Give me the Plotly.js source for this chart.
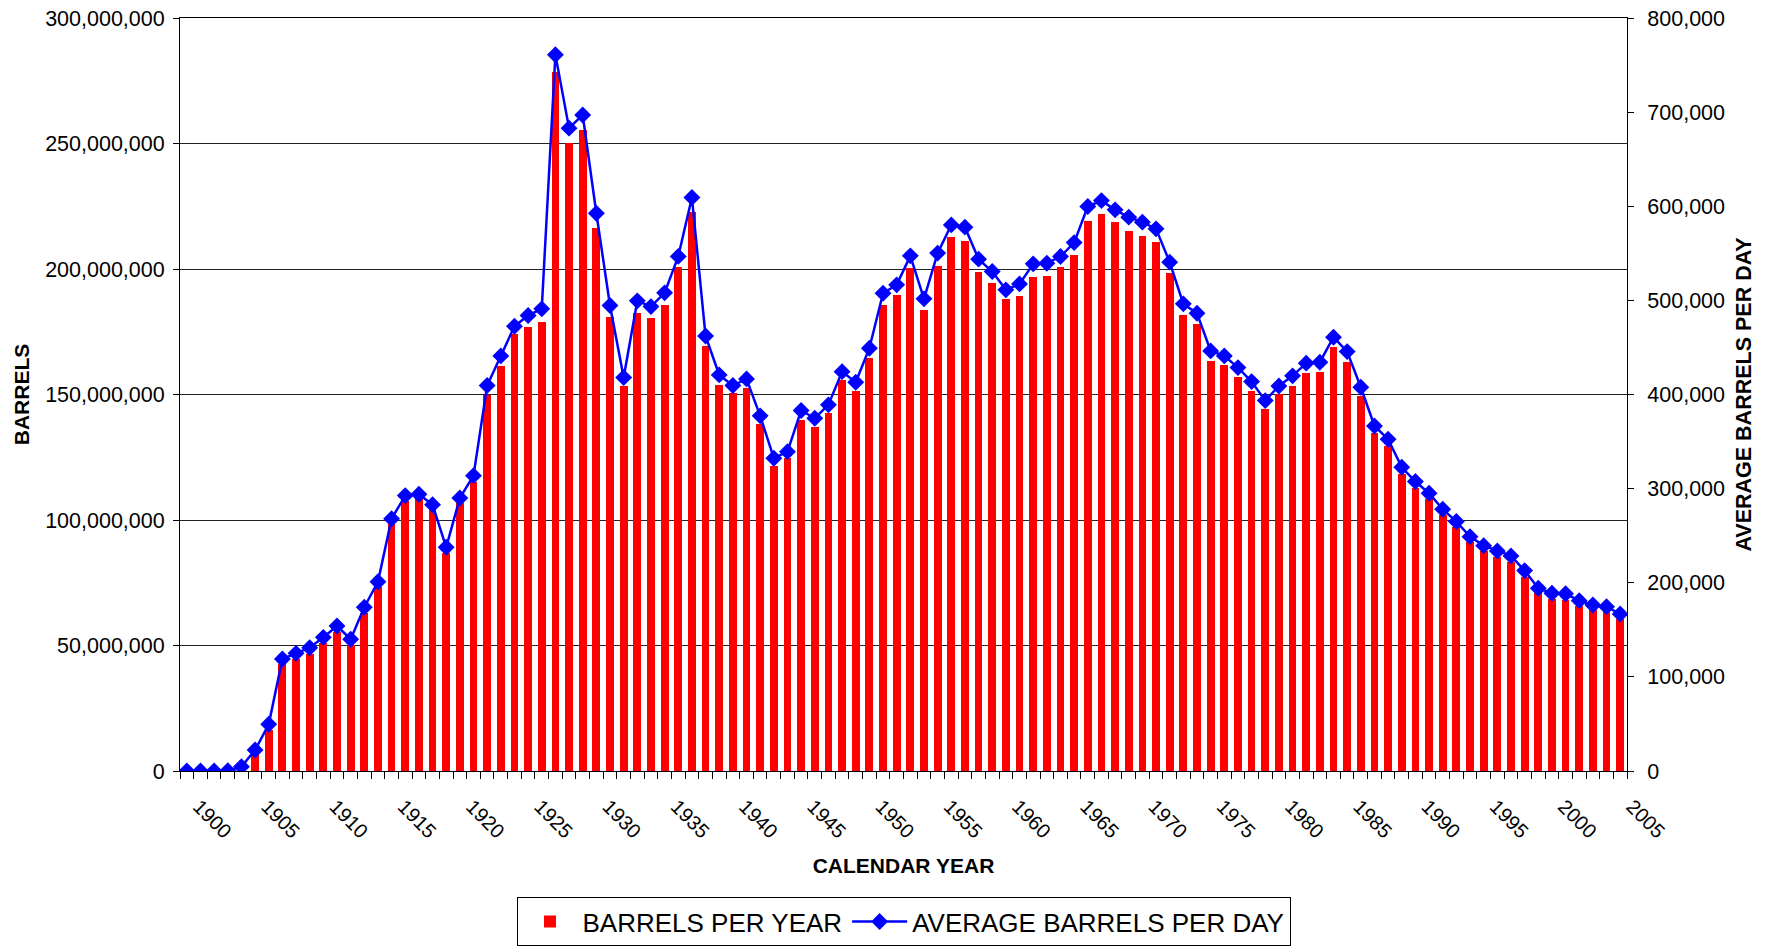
<!DOCTYPE html>
<html>
<head>
<meta charset="utf-8">
<script src="https://cdn.plot.ly/plotly-3.0.1.min.js"></script>
<style>
  html, body { margin: 0; padding: 0; background: #fff; }
  #chart { width: 1765px; height: 947px; }
</style>
</head>
<body>
<div id="chart"></div>
<script>
// Calendar years (categories)
const years = [
  1900,1901,1902,1903,1904,1905,1906,1907,1908,1909,
  1910,1911,1912,1913,1914,1915,1916,1917,1918,1919,
  1920,1921,1922,1923,1924,1925,1926,1927,1928,1929,
  1930,1931,1932,1933,1934,1935,1936,1937,1938,1939,
  1940,1941,1942,1943,1944,1945,1946,1947,1948,1949,
  1950,1951,1952,1953,1954,1955,1956,1957,1958,1959,
  1960,1961,1962,1963,1964,1965,1966,1967,1968,1969,
  1970,1971,1972,1973,1974,1975,1976,1977,1978,1979,
  1980,1981,1982,1983,1984,1985,1986,1987,1988,1989,
  1990,1991,1992,1993,1994,1995,1996,1997,1998,1999,
  2000,2001,2002,2003,2004,2005
];

// Barrels per year
const barrelsPerYear = [
  6000,10000,37000,139000,1700000,6800000,16300000,42500000,44500000,46600000,
  51100000,55500000,50200000,63100000,73200000,98400000,107600000,108200000,104000000,86700000,
  106600000,115300000,149800000,161400000,174000000,176700000,179000000,278600000,250100000,255400000,
  216200000,181000000,153500000,182600000,180600000,185700000,200800000,222800000,169300000,153800000,
  150500000,152500000,138200000,121600000,124600000,139800000,137200000,142500000,155800000,151400000,
  164400000,185700000,189600000,200300000,183700000,201200000,212900000,211300000,198900000,194300000,
  187900000,189400000,196900000,197300000,200700000,205500000,219100000,221800000,218600000,215300000,
  213300000,210900000,198300000,181700000,178100000,163500000,161800000,156800000,151400000,144100000,
  150200000,153500000,158700000,159100000,169100000,163100000,149500000,134500000,129300000,118300000,
  112900000,108400000,102000000,97100000,91100000,87600000,85400000,83400000,77400000,70800000,
  68500000,68200000,65700000,64100000,63500000,60400000
];

// Average barrels per day
const barrelsPerDay = [
  20,30,100,380,4600,22300,49600,119000,125000,131000,
  142000,154000,140000,174000,201000,268000,292600,294000,283000,237700,
  290000,313800,409500,441000,472500,484000,491000,760900,683000,697000,
  592600,494500,418000,499500,493400,508000,546700,609300,462200,420800,
  409500,416600,377300,332300,339300,383000,374800,389000,424300,413000,
  449200,507600,516500,547300,501600,550200,580200,577800,543800,530600,
  511200,517500,538800,539500,546600,561400,599700,606000,596200,588400,
  583100,576000,540600,496300,486400,446300,441000,428600,413700,393500,
  409100,419800,433300,434300,460900,445600,407700,366600,352500,322700,
  307500,295100,278100,265000,249000,239400,233800,228500,212900,194200,
  188800,188300,181000,176400,174600,166800
];

// Labelled years on the x axis
const xTickVals = [1900,1905,1910,1915,1920,1925,1930,1935,1940,1945,1950,1955,1960,1965,1970,1975,1980,1985,1990,1995,2000,2005];
const xTickText = ['1900','1905','1910','1915','1920','1925','1930','1935','1940','1945','1950','1955','1960','1965','1970','1975','1980','1985','1990','1995','2000','2005'];

const FONT = '"Liberation Sans", Arial, sans-serif';
const X_RANGE = [1899.5, 2005.5];
const Y_RANGE = [0, 300000000];

const traces = [
  {
    type: 'bar',
    name: 'BARRELS PER YEAR',
    x: years,
    y: barrelsPerYear,
    width: 0.57,
    marker: { color: '#FF0000', line: { width: 0 } },
    yaxis: 'y',
    hoverinfo: 'x+y'
  },
  {
    type: 'scatter',
    mode: 'lines+markers',
    name: 'AVERAGE BARRELS PER DAY',
    x: years,
    y: barrelsPerDay,
    yaxis: 'y2',
    line: { color: '#0000FF', width: 2.5 },
    marker: { symbol: 'diamond', size: 13, color: '#0000FF' },
    hoverinfo: 'x+y'
  }
];

const layout = {
  width: 1765,
  height: 947,
  paper_bgcolor: '#FFFFFF',
  plot_bgcolor: '#FFFFFF',
  font: { family: FONT, color: '#000000', size: 20 },
  margin: { l: 180, r: 138, t: 18, b: 176, pad: 0 },
  showlegend: true,
  bargap: 0,
  xaxis: {
    type: 'linear',
    range: X_RANGE,
    tickmode: 'array',
    tickvals: xTickVals,
    ticktext: xTickText,
    ticks: '',
    tickangle: 45,
    tickfont: { family: FONT, size: 20, color: '#000' },
    ticklabelstandoff: 15,
    ticklabelshift: 12,
    showline: true,
    linecolor: '#000000',
    linewidth: 1,
    mirror: true,
    showgrid: false,
    zeroline: false,
    minor: { tick0: 1899.5, dtick: 1, ticks: 'outside', ticklen: 7, tickcolor: '#000', tickwidth: 1, showgrid: false },
    title: { text: 'CALENDAR YEAR', font: { family: FONT, size: 21, weight: 'bold', color: '#000' }, standoff: 16 },
    automargin: false
  },
  xaxis2: {
    type: 'linear',
    overlaying: 'x',
    anchor: 'y',
    side: 'bottom',
    range: X_RANGE,
    showticklabels: false,
    ticks: '',
    showline: false,
    showgrid: false,
    zeroline: false,
    minor: { tick0: 1899.5, dtick: 1, ticks: 'inside', ticklen: 7, tickcolor: '#000', tickwidth: 1, showgrid: false },
    automargin: false
  },
  yaxis: {
    range: Y_RANGE,
    tickmode: 'linear',
    tick0: 0,
    dtick: 50000000,
    tickformat: ',d',
    ticks: 'outside',
    ticklen: 6,
    tickcolor: '#000',
    tickfont: { family: FONT, size: 21.5, color: '#000' },
    ticklabelstandoff: 4,
    showline: true,
    linecolor: '#000000',
    linewidth: 1,
    showgrid: true,
    gridcolor: '#222222',
    gridwidth: 1,
    zeroline: false,
    title: { text: 'BARRELS', font: { family: FONT, size: 21, weight: 'bold', color: '#000' }, standoff: 9 },
    automargin: false
  },
  yaxis3: {
    overlaying: 'y',
    anchor: 'x',
    side: 'left',
    range: Y_RANGE,
    tickmode: 'linear',
    tick0: 0,
    dtick: 50000000,
    ticks: 'inside',
    ticklen: 6,
    tickcolor: '#000',
    showticklabels: false,
    showline: false,
    showgrid: false,
    zeroline: false,
    automargin: false
  },
  yaxis2: {
    overlaying: 'y',
    side: 'right',
    range: [0, 800000],
    tickmode: 'linear',
    tick0: 0,
    dtick: 100000,
    tickformat: ',d',
    ticks: 'outside',
    ticklen: 6,
    tickcolor: '#000',
    tickfont: { family: FONT, size: 21.5, color: '#000' },
    ticklabelstandoff: 9,
    showline: true,
    linecolor: '#000000',
    linewidth: 1,
    showgrid: false,
    zeroline: false,
    title: { text: 'AVERAGE BARRELS PER DAY', font: { family: FONT, size: 21.5, weight: 'bold', color: '#000' }, standoff: 11 },
    automargin: false
  },
  legend: {
    orientation: 'h',
    x: 0.5,
    xanchor: 'center',
    yref: 'container',
    y: 0.001,
    yanchor: 'bottom',
    bgcolor: '#FFFFFF',
    bordercolor: '#000000',
    borderwidth: 1,
    font: { family: FONT, size: 26, color: '#000' },
    traceorder: 'normal',
    itemwidth: 55
  }
};

Plotly.newPlot('chart', traces, layout, { displayModeBar: false, staticPlot: true });
</script>
</body>
</html>
